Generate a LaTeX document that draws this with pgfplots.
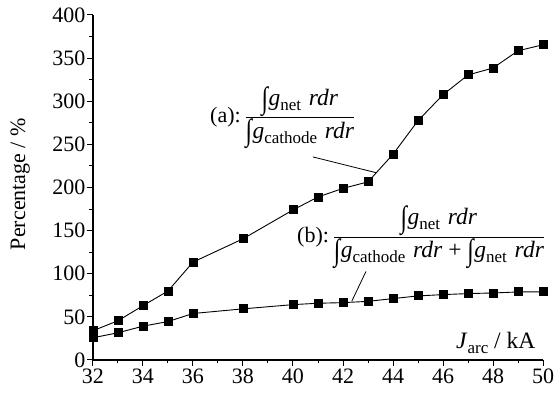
\documentclass[border=0pt]{standalone}
\usepackage{fontspec}
\setmainfont{Liberation Serif}
\usepackage{pgfplots}
\pgfplotsset{compat=1.18}
\newcommand{\fs}{\fontsize{22}{26}\selectfont}
\newcommand{\fb}{\fontsize{23.5}{28}\selectfont}
\newcommand{\sub}[1]{\raisebox{-0.45ex}{\fontsize{17}{20}\selectfont #1}}
\newcommand{\intg}{\raisebox{-0.25ex}{\scalebox{1}[1.3]{∫}}\kern0.5pt}
\begin{document}
\begin{tikzpicture}
\begin{axis}[
  scale only axis, width=450pt, height=345pt,
  xmin=32, xmax=50, ymin=0, ymax=400,
  axis x line=bottom, axis y line=left,
  axis line style={-, line width=1.1pt},
  xtick={32,34,...,50}, ytick={0,50,...,400},
  minor x tick num=1, minor y tick num=1,
  tick align=outside, major tick length=6pt, minor tick length=3.5pt,
  tick style={black, line width=1pt},
  tick label style={font=\fs},
  xticklabel style={yshift=1pt},
  yticklabel style={xshift=2pt},
  /pgf/number format/assume math mode=true,
  ylabel={Percentage / \%},
  ylabel style={font=\fs, at={(axis description cs:-0.162,0.51)}, anchor=center},
  clip=false,
]
\addplot[black, line width=0.9pt, mark=square*, mark size=4pt] coordinates {
(32,34) (33,45.5) (34,63) (35,80) (36,113.5) (38,140.5) (40,174) (41,189) (42,199) (43,206.5) (44,238.5) (45,277.5) (46,307.5) (47,330.5) (48,338.5) (49,358.5) (50,365.5)};
\addplot[black, line width=0.9pt, mark=square*, mark size=4pt] coordinates {
(32,25.8) (33,31.6) (34,39.2) (35,44.6) (36,53.9) (38,59.3) (40,64.2) (41,65.8) (42,66.5) (43,68) (44,71.2) (45,74.3) (46,75.8) (47,77) (48,77.7) (49,78.9) (50,78.9)};
\draw[black, line width=0.8pt] (axis cs:40.8,235.4) -- (axis cs:43.35,217);
\draw[black, line width=0.8pt] (axis cs:42.92,102.7) -- (axis cs:42.35,68.1);
\node[anchor=west, font=\fs, inner sep=0pt] at (axis cs:36.68,281) {(a):\,$\displaystyle\frac{\mbox{\fb\intg\textit{g}\sub{net}\,\,\textit{rdr}}}{\mbox{\fb\intg\textit{g}\sub{cathode}\,\,\textit{rdr}}}$};
\node[anchor=west, font=\fs, inner sep=0pt] at (axis cs:40.16,142.7) {(b):\,$\displaystyle\frac{\mbox{\fb\intg\textit{g}\sub{net}\,\,\textit{rdr}}}{\mbox{\fb\intg\textit{g}\sub{cathode}\,\,\textit{rdr} + \intg\textit{g}\sub{net}\,\,\textit{rdr}}}$};
\node[anchor=base east, font=\fs, inner sep=0pt] at (axis cs:49.7,13) {\fb\textit{J}\sub{arc} / kA};
\end{axis}
\pgfresetboundingbox
\path[use as bounding box] (-93pt,-36pt) rectangle (467pt,360pt);
\end{tikzpicture}
\end{document}
